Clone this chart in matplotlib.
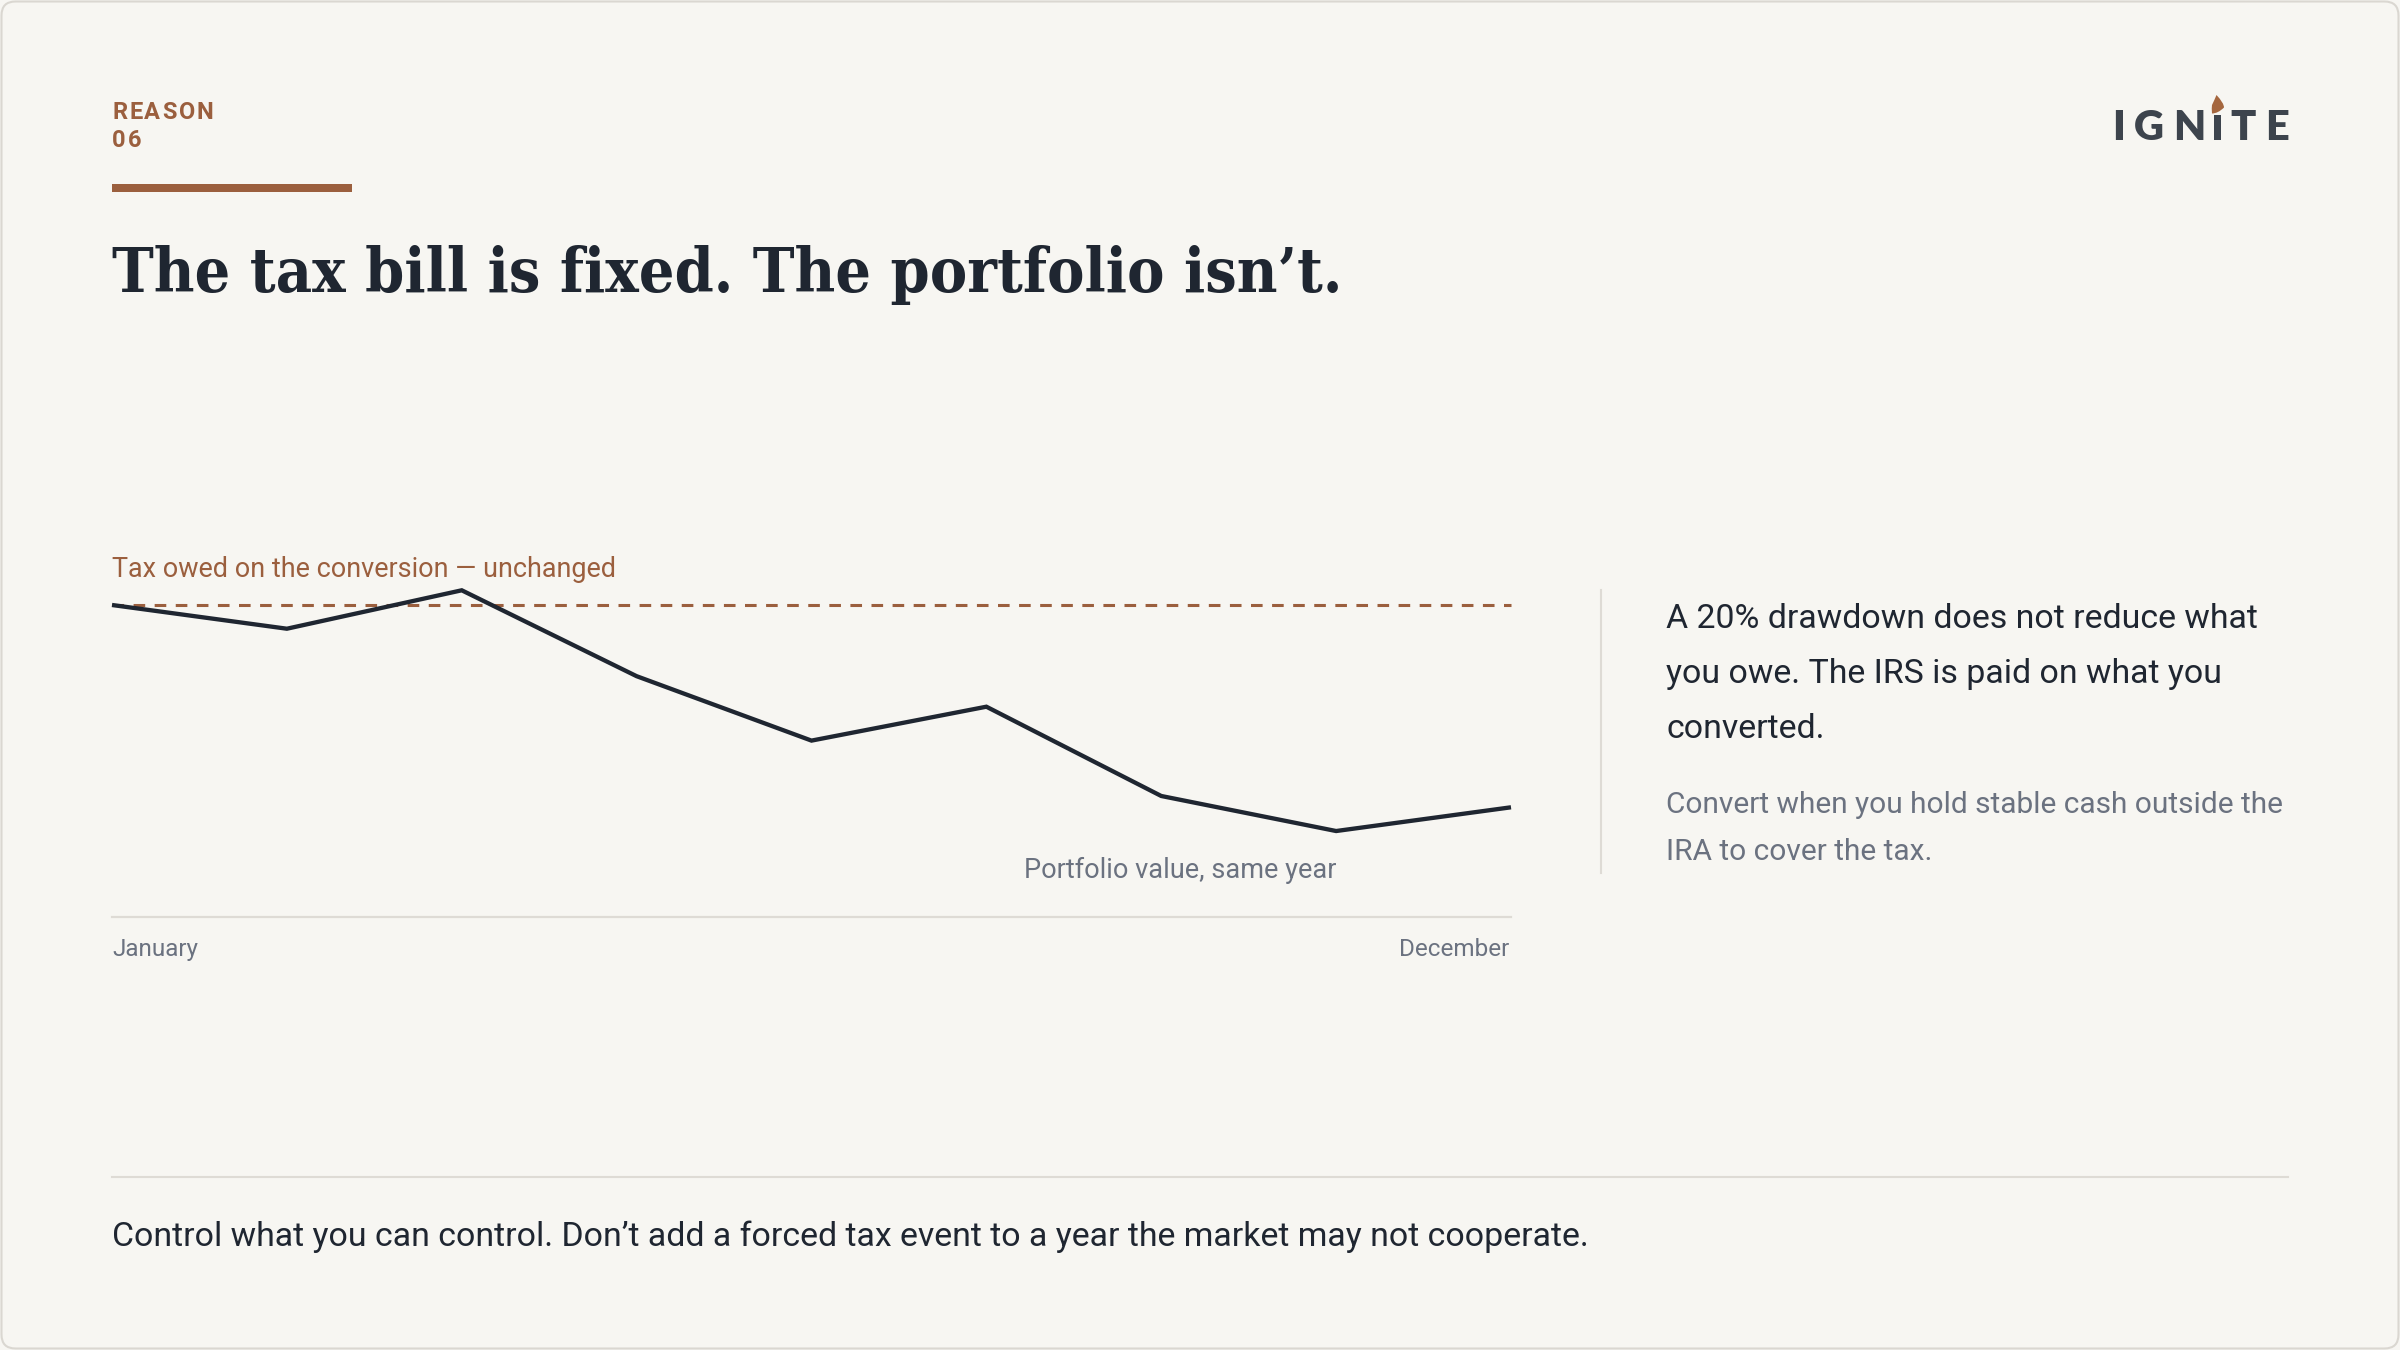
import matplotlib
matplotlib.use('Agg')
import matplotlib.pyplot as plt
from matplotlib.patches import FancyBboxPatch, Rectangle, PathPatch
from matplotlib.path import Path
from matplotlib.transforms import IdentityTransform

# ---------------- data ----------------
period_labels = ['January', 'December']
portfolio_value = [100, 97.9, 101.3, 93.7, 88.0, 91.0, 83.1, 80.0, 82.1]
tax_owed = 100
tax_label = 'Tax owed on the conversion \u2014 unchanged'
portfolio_label = 'Portfolio value, same year'
kicker = ['REASON', '06']
title = 'The tax bill is fixed. The portfolio isn\u2019t.'
side_main = ['A 20% drawdown does not reduce what',
             'you owe. The IRS is paid on what you',
             'converted.']
side_note = ['Convert when you hold stable cash outside the',
             'IRA to cover the tax.']
footer = 'Control what you can control. Don\u2019t add a forced tax event to a year the market may not cooperate.'
logo = 'IGNITE'

# ---------------- style ----------------
W, H = 2400, 1350
BG = '#F7F6F2'
BROWN = '#9B5F3E'
DARK = '#1F2631'
GRAY = '#6B7280'
RULE = '#DEDBD5'
LOGO = '#3D444D'
SANS = ['Roboto', 'DejaVu Sans']

fig = plt.figure(figsize=(24, 13.5), dpi=100, facecolor=BG)


def fx(x):
    return x / W


def fy(y):
    return 1 - y / H


# border
border = FancyBboxPatch((1.5, 1.5), W - 3, H - 3,
                        boxstyle='round,pad=0,rounding_size=14',
                        transform=IdentityTransform(), facecolor='none',
                        edgecolor='#DAD7D1', linewidth=1.5)
fig.patches.append(border)

# ---------------- chart ----------------
ax = fig.add_axes([fx(112), fy(916.7), (1511 - 112) / W, (916.7 - 560) / H])
ax.set_facecolor('none')
x = list(range(len(portfolio_value)))
ax.set_xlim(0, len(portfolio_value) - 1)
ax.set_ylim(72.42, 103.98)
ax.axhline(tax_owed, color=BROWN, lw=2.2, linestyle=(0, (3.8, 3.1)), clip_on=False)
ax.plot(x, portfolio_value, color=DARK, lw=3.1, solid_joinstyle='miter',
        solid_capstyle='butt', clip_on=False, zorder=3)
for s in ['top', 'left', 'right']:
    ax.spines[s].set_visible(False)
ax.spines['bottom'].set_color(RULE)
ax.spines['bottom'].set_linewidth(1.6)
ax.set_xticks([])
ax.set_yticks([])

t_tax = ax.annotate(tax_label, xy=(0, tax_owed), xytext=(0, 28),
                    textcoords='offset pixels', ha='left', va='baseline',
                    color=BROWN, fontsize=18, family=SANS)
imin = portfolio_value.index(min(portfolio_value))
t_port = ax.annotate(portfolio_label, xy=(x[imin], portfolio_value[imin]),
                     xytext=(0, -47), textcoords='offset pixels',
                     ha='right', va='baseline', color=GRAY, fontsize=19,
                     family=SANS)
t_jan = ax.annotate(period_labels[0], xy=(x[0], 0), xycoords=('data', 'axes fraction'),
                    xytext=(0, -39), textcoords='offset pixels', ha='left',
                    va='baseline', color=GRAY, fontsize=17.5, family=SANS)
t_dec = ax.annotate(period_labels[1], xy=(x[-1], 0), xycoords=('data', 'axes fraction'),
                    xytext=(-2, -39), textcoords='offset pixels', ha='right',
                    va='baseline', color=GRAY, fontsize=17.5, family=SANS)

# ---------------- header ----------------
fig.canvas.draw()
r = fig.canvas.get_renderer()


def fit(t, w):
    bb = t.get_window_extent(renderer=r)
    t.set_fontsize(t.get_fontsize() * w / bb.width)


def spaced(x0, y0, s, gap, **kw):
    cx = x0
    for ch in s:
        t = fig.text(fx(cx), fy(y0), ch, ha='left', va='baseline', **kw)
        cx += t.get_window_extent(renderer=r).width + gap
    return cx


spaced(112, 119, kicker[0], 2.0, color=BROWN, fontsize=17, fontweight='bold', family=SANS)
spaced(112, 146.7, kicker[1], 2.0, color=BROWN, fontsize=17, fontweight='bold', family=SANS)
fig.patches.append(Rectangle((fx(112), fy(191.7)), fx(352) - fx(112), fy(184) - fy(191.7),
                             transform=fig.transFigure, facecolor=BROWN, edgecolor='none'))

t_title = fig.text(fx(112), fy(291.7), title, ha='left', va='baseline',
                   color=DARK, fontsize=48, fontweight='bold', fontstretch='condensed',
                   family=['DejaVu Serif'])
fit(t_title, 1232)

# logo
letter_centers = [2118.5, 2149, 2189.5, None, 2243.5, 2277.5]
for ch, cxp in zip(logo, letter_centers):
    if cxp is None:
        continue
    fig.text(fx(cxp), fy(140), ch, ha='center', va='baseline', color=LOGO,
             fontsize=30, fontweight='heavy', family=['Lato', 'DejaVu Sans'])
fig.patches.append(Rectangle((fx(2214.2), fy(140)), fx(2220.8) - fx(2214.2), fy(115) - fy(140),
                             transform=fig.transFigure, facecolor=LOGO, edgecolor='none'))
flame = [(2216.5, 95), (2224, 103), (2224, 107.5), (2218, 113.5), (2212, 113.5),
         (2211.5, 108), (2212, 105), (2214, 101), (2216.5, 95)]
codes = [Path.MOVETO, Path.CURVE3, Path.CURVE3, Path.CURVE3, Path.CURVE3,
         Path.CURVE3, Path.CURVE3, Path.CURVE3, Path.CURVE3]
fpath = Path([(fx(a), fy(b)) for a, b in flame], codes)
fig.patches.append(PathPatch(fpath, transform=fig.transFigure, facecolor='#A5673F', edgecolor='none'))

# ---------------- side panel ----------------
fig.add_artist(plt.Line2D([fx(1601), fx(1601)], [fy(590), fy(873)], color=RULE, lw=1.5))
main_bl = [628, 683, 737.7]
for i, (line, bl) in enumerate(zip(side_main, main_bl)):
    t = fig.text(fx(1666), fy(bl), line, ha='left', va='baseline', color=DARK,
                 fontsize=21.5, family=SANS)
    if i == 0:
        fit(t, 592)
        fs_main = t.get_fontsize()
    else:
        t.set_fontsize(fs_main)
note_bl = [813, 860]
for i, (line, bl) in enumerate(zip(side_note, note_bl)):
    t = fig.text(fx(1666), fy(bl), line, ha='left', va='baseline', color=GRAY,
                 fontsize=19.5, family=SANS)
    if i == 0:
        fit(t, 620)
        fs_note = t.get_fontsize()
    else:
        t.set_fontsize(fs_note)

# ---------------- footer ----------------
fig.add_artist(plt.Line2D([fx(112), fx(2288)], [fy(1177), fy(1177)], color=RULE, lw=1.5))
t_foot = fig.text(fx(112), fy(1246), footer, ha='left', va='baseline', color=DARK,
                  fontsize=23, family=SANS)
fit(t_foot, 1484)

fit(t_tax, 505)
fit(t_port, 311)

fig.savefig('out.png', dpi=100, facecolor=BG)
